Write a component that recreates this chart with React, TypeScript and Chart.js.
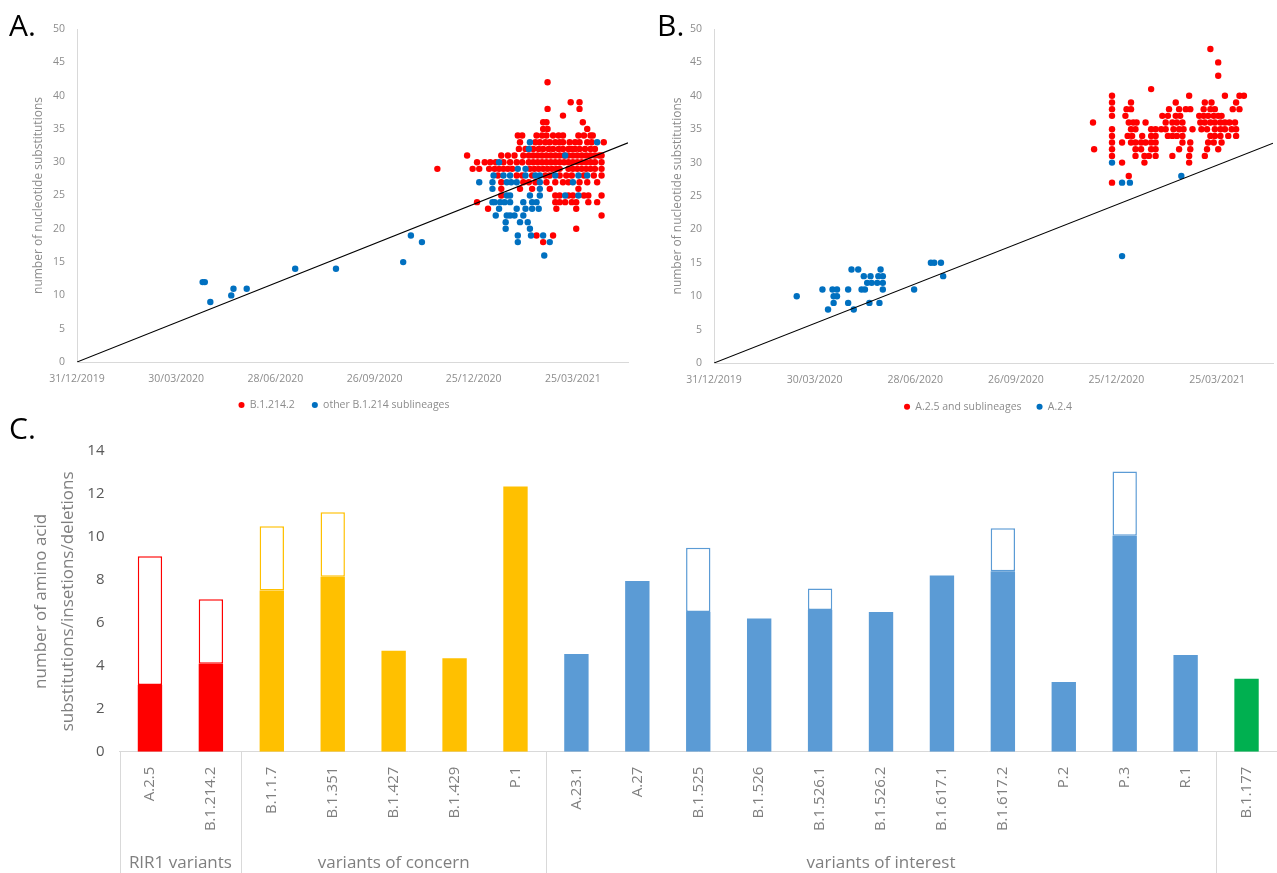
import React, { useEffect, useRef } from 'react';
import { Chart, registerables } from 'chart.js';

Chart.register(...registerables);

const FONT = '"Open Sans", "DejaVu Sans", sans-serif';
const RED = '#FF0000';
const BLUE = '#0070C0';
const AXIS_GREY = '#d9d9d9';
const TEXT_GREY = '#8c8c8c';

// ---------- Panels A and B (x = days since 31/12/2019) ----------
const xTickLabels = ['31/12/2019', '30/03/2020', '28/06/2020', '26/09/2020', '25/12/2020', '25/03/2021'];
const xTickStepDays = 90;
const xMaxDays = 500;
const trendDays = [0, 500];
const trendValues = [0, 32.9];

// rows: [number of nucleotide substitutions, [days since 31/12/2019 ...]]
const aRedRows: [number, number[]][] = [
  [42, [427]],
  [39, [448, 456]],
  [38, [427, 456]],
  [37, [441]],
  [36, [423, 426, 459]],
  [35, [423, 427, 463]],
  [34, [400, 404, 417, 422, 426, 432, 437, 441, 455, 460, 466, 468]],
  [33, [402, 416, 420, 425, 429, 434, 438, 441, 447, 452, 456, 463, 467, 478]],
  [32, [401, 407, 414, 419, 423, 428, 432, 437, 441, 446, 449, 452, 456, 461, 466, 470]],
  [31, [354, 385, 391, 397, 405, 410, 414, 418, 422, 426, 430, 434, 438, 442, 446, 450, 454, 458, 462, 466, 470, 474, 476]],
  [30, [363, 370, 375, 380, 387, 393, 399, 404, 410, 414, 418, 422, 426, 430, 434, 438, 442, 446, 450, 454, 458, 462, 466, 470, 476]],
  [29, [327, 359, 365, 374, 379, 383, 387, 391, 395, 411, 415, 419, 423, 427, 431, 435, 438, 446, 450, 454, 458, 462, 466, 470, 476]],
  [28, [382, 399, 404, 413, 425, 429, 438, 444, 449, 460, 469, 476]],
  [27, [385, 405, 410, 416, 426, 434, 441, 446, 456, 463, 472]],
  [26, [385, 402, 413, 429, 455]],
  [25, [385, 434, 438, 446, 450, 460, 464, 476]],
  [24, [363, 434, 438, 443, 449, 453, 464, 472]],
  [23, [373, 435, 453]],
  [22, [476]],
  [20, [453]],
  [19, [417, 432]],
  [18, [423]],
];

const aBlueRows: [number, number[]][] = [
  [33, [411, 472]],
  [32, [410]],
  [31, [443]],
  [30, [383]],
  [29, [400, 407]],
  [28, [378, 387, 393, 407, 416, 420, 434, 455, 463]],
  [27, [365, 377, 390, 394, 399, 420, 450]],
  [26, [377, 420]],
  [25, [390, 393, 411, 420, 443, 455]],
  [24, [377, 379, 384, 388, 393, 405, 413, 417]],
  [23, [383, 399, 407, 413, 419]],
  [22, [380, 390, 393, 397, 405]],
  [21, [389, 402, 409]],
  [20, [389, 411]],
  [19, [303, 400, 412, 423]],
  [18, [313, 400, 429]],
  [16, [424]],
  [15, [296]],
  [14, [198, 235]],
  [12, [114, 116]],
  [11, [142, 154]],
  [10, [140]],
  [9, [121]],
];

const bRedRows: [number, number[]][] = [
  [47, [444]],
  [45, [451]],
  [43, [451]],
  [41, [391]],
  [40, [356, 425, 457, 470, 474]],
  [39, [356, 373, 413, 439, 445, 467]],
  [38, [356, 369, 373, 407, 416, 422, 426, 438, 444, 448, 464, 470]],
  [37, [356, 368, 401, 406, 413, 417, 434, 438, 442, 447, 451, 454]],
  [36, [339, 371, 375, 378, 386, 404, 410, 414, 419, 435, 439, 444, 448, 453, 457, 461, 466]],
  [35, [356, 373, 377, 391, 395, 400, 404, 411, 416, 420, 428, 436, 441, 448, 453, 457, 463, 467]],
  [34, [356, 370, 374, 383, 391, 395, 406, 410, 414, 419, 444, 448, 453, 460, 467]],
  [33, [356, 365, 373, 377, 382, 386, 391, 395, 419, 426, 442, 447, 454]],
  [32, [340, 356, 377, 382, 391, 395, 416, 426, 441, 451]],
  [31, [356, 377, 385, 389, 395, 410, 425, 439]],
  [30, [365, 385, 425]],
  [28, [371]],
  [27, [356]],
];

const bBlueRows: [number, number[]][] = [
  [30, [356]],
  [28, [418]],
  [27, [365, 372]],
  [16, [365]],
  [15, [194, 197, 203]],
  [14, [123, 129, 149]],
  [13, [134, 140, 147, 151, 205]],
  [12, [137, 141, 146, 151]],
  [11, [97, 106, 110, 120, 132, 135, 151, 179]],
  [10, [74, 107, 110]],
  [9, [107, 120, 139, 148]],
  [8, [102, 125]],
];

// ---------- Panel C ----------
const categories = ['A.2.5', 'B.1.214.2', 'B.1.1.7', 'B.1.351', 'B.1.427', 'B.1.429', 'P.1', 'A.23.1', 'A.27', 'B.1.525', 'B.1.526', 'B.1.526.1', 'B.1.526.2', 'B.1.617.1', 'B.1.617.2', 'P.2', 'P.3', 'R.1', 'B.1.177'];
const filledValues = [3.1, 4.1, 7.5, 8.15, 4.7, 4.35, 12.35, 4.55, 7.95, 6.5, 6.2, 6.6, 6.5, 8.2, 8.4, 3.25, 10.05, 4.5, 3.4];
const outlineValues = [6, 3, 3, 3, null, null, null, null, null, 3, null, 1, null, null, 2, null, 3, null, null];
const groupLabels = ['RIR1 variants', 'variants of concern', 'variants of interest', ''];
const groupSizes = [2, 5, 11, 1];
const groupColors = ['#FF0000', '#FFC000', '#5B9BD5', '#00B050'];

const barColors: string[] = groupSizes.flatMap((n, g) => Array(n).fill(groupColors[g]));

function rowsToPoints(rows: [number, number[]][]) {
  return rows.flatMap(([y, days]) => days.map((d) => ({ x: d, y })));
}

type ScatterProps = {
  left: number; top: number; width: number; height: number;
  redRows: [number, number[]][]; blueRows: [number, number[]][];
  redLabel: string; blueLabel: string;
  pad: { left: number; right: number; top: number; bottom: number };
  yAxisWidth: number; xAxisHeight: number; titlePadTop: number; legendPad: number; legendShift: number;
};

function ScatterPanel(p: ScatterProps) {
  const ref = useRef<HTMLCanvasElement>(null);
  useEffect(() => {
    const tickFont = { family: FONT, size: 10.5 };
    const legendShiftPlugin = {
      id: 'legendShift',
      afterLayout(chart: any) {
        const l = chart.legend;
        if (l) { l.left += p.legendShift; l.right += p.legendShift; }
      },
    };
    const chart = new Chart(ref.current!, {
      type: 'scatter',
      data: {
        datasets: [
          { label: p.redLabel, data: rowsToPoints(p.redRows), backgroundColor: RED, borderColor: RED, pointRadius: 3.2, pointBorderWidth: 0, pointStyle: 'circle', order: 2 } as any,
          { label: p.blueLabel, data: rowsToPoints(p.blueRows), backgroundColor: BLUE, borderColor: BLUE, pointRadius: 3.2, pointBorderWidth: 0, pointStyle: 'circle', order: 1 } as any,
          { type: 'line', label: 'trend', data: trendDays.map((d, i) => ({ x: d, y: trendValues[i] })), borderColor: '#000000', borderWidth: 1.1, pointRadius: 0, fill: false, order: 0 } as any,
        ],
      },
      options: {
        responsive: false,
        animation: false,
        events: [],
        layout: { padding: p.pad },
        plugins: {
          tooltip: { enabled: false },
          legend: {
            position: 'bottom',
            labels: {
              usePointStyle: true,
              pointStyle: 'circle',
              boxWidth: 6,
              boxHeight: 4.3,
              padding: p.legendPad,
              color: TEXT_GREY,
              font: { family: FONT, size: 10.5 },
              filter: (item: any) => item.datasetIndex < 2,
              sort: (a: any, b: any) => a.datasetIndex - b.datasetIndex,
            },
          },
        },
        scales: {
          x: {
            type: 'linear',
            min: 0,
            max: xMaxDays,
            grid: { display: false, drawTicks: false },
            border: { display: true, color: AXIS_GREY },
            ticks: {
              stepSize: xTickStepDays,
              includeBounds: false,
              autoSkip: false,
              maxRotation: 0,
              minRotation: 0,
              padding: 11,
              color: TEXT_GREY,
              font: tickFont,
              callback: (v: any) => xTickLabels[Math.round(Number(v) / xTickStepDays)] ?? '',
            },
            afterFit: (s: any) => { s.height = p.xAxisHeight; s.paddingLeft = 0; s.paddingRight = 0; },
          },
          y: {
            min: 0,
            max: 50,
            grid: { display: false, drawTicks: false },
            border: { display: true, color: AXIS_GREY },
            ticks: { stepSize: 5, padding: 12, color: TEXT_GREY, font: tickFont },
            title: {
              display: true,
              text: 'number of nucleotide substitutions',
              color: TEXT_GREY,
              font: { family: FONT, size: 12 },
              padding: { top: p.titlePadTop, bottom: 0 },
            },
            afterFit: (s: any) => { s.width = p.yAxisWidth; s.paddingTop = 0; s.paddingBottom = 0; },
          },
        },
      } as any,
      plugins: [legendShiftPlugin],
    });
    return () => chart.destroy();
  }, []);
  return (
    <canvas ref={ref} width={p.width} height={p.height}
      style={{ position: 'absolute', left: p.left, top: p.top, width: p.width, height: p.height }} />
  );
}

function BarPanel() {
  const ref = useRef<HTMLCanvasElement>(null);
  useEffect(() => {
    const groupPlugin = {
      id: 'groupAxis',
      afterDraw(chart: any) {
        const { ctx, chartArea, scales } = chart;
        const x = scales.x;
        const H = chart.height;
        const bounds: number[] = [chartArea.left];
        let idx = 0;
        groupSizes.forEach((n) => {
          idx += n;
          bounds.push(idx < categories.length ? (x.getPixelForValue(idx - 1) + x.getPixelForValue(idx)) / 2 : chartArea.right);
        });
        ctx.save();
        ctx.strokeStyle = AXIS_GREY;
        ctx.lineWidth = 1;
        bounds.slice(0, -1).forEach((b) => {
          const px = Math.round(b) + 0.5;
          ctx.beginPath();
          ctx.moveTo(px, chartArea.bottom);
          ctx.lineTo(px, H);
          ctx.stroke();
        });
        ctx.font = `17px ${FONT}`;
        ctx.fillStyle = '#7f7f7f';
        ctx.textAlign = 'center';
        ctx.textBaseline = 'middle';
        groupLabels.forEach((t, i) => {
          if (t) ctx.fillText(t, (bounds[i] + bounds[i + 1]) / 2, H - 10);
        });
        ctx.restore();
      },
    };
    const chart = new Chart(ref.current!, {
      type: 'bar',
      data: {
        labels: categories,
        datasets: [
          { label: 'filled', data: filledValues, backgroundColor: barColors, borderWidth: 0, barPercentage: 0.4, categoryPercentage: 1 },
          { label: 'outline', data: outlineValues, backgroundColor: '#ffffff', borderColor: barColors, borderWidth: 1.5, borderSkipped: false, barPercentage: 0.4, categoryPercentage: 1 },
        ],
      },
      options: {
        responsive: false,
        animation: false,
        events: [],
        layout: { padding: { left: 0, right: 0, top: 31, bottom: 0 } },
        plugins: { legend: { display: false }, tooltip: { enabled: false } },
        scales: {
          x: {
            stacked: true,
            grid: { display: false, drawTicks: false },
            border: { display: true, color: AXIS_GREY },
            ticks: { autoSkip: false, minRotation: 90, maxRotation: 90, padding: 15, color: '#7f7f7f', font: { family: FONT, size: 15 } },
            afterFit: (s: any) => { s.height = 121.3; s.paddingLeft = 0; s.paddingRight = 0; },
          },
          y: {
            stacked: true,
            min: 0,
            max: 14,
            grid: { display: false, drawTicks: false },
            border: { display: false },
            ticks: { stepSize: 2, padding: 15, color: '#595959', font: { family: FONT, size: 15 } },
            title: {
              display: true,
              text: ['number of amino acid', 'substitutions/insetions/deletions'],
              color: '#7f7f7f',
              font: { family: FONT, size: 17, lineHeight: 1.6 },
              padding: { top: 27.4, bottom: 0 },
            },
            afterFit: (s: any) => { s.width = 119.5; s.paddingTop = 0; s.paddingBottom = 0; },
          },
        },
      } as any,
      plugins: [groupPlugin],
    });
    return () => chart.destroy();
  }, []);
  return (
    <canvas ref={ref} width={1277} height={453}
      style={{ position: 'absolute', left: 0, top: 420, width: 1277, height: 453 }} />
  );
}

const panelLetter: React.CSSProperties = {
  position: 'absolute', fontFamily: FONT, fontSize: 30, fontWeight: 400, lineHeight: '30px', color: '#000',
};

export default function App() {
  return (
    <div style={{ position: 'relative', width: 1277, height: 873, overflow: 'hidden', background: '#fff' }}>
      <style>{'body{margin:0;background:#fff;}'}</style>
      <ScatterPanel left={0} top={0} width={640} height={430}
        redRows={aRedRows} blueRows={aBlueRows}
        redLabel="B.1.214.2" blueLabel="other B.1.214 sublineages"
        pad={{ left: 0, right: 12, top: 29, bottom: 9.75 }}
        yAxisWidth={77} xAxisHeight={20.75} titlePadTop={31.8} legendPad={17} legendShift={30} />
      <ScatterPanel left={640} top={0} width={637} height={430}
        redRows={bRedRows} blueRows={bBlueRows}
        redLabel="A.2.5 and sublineages" blueLabel="A.2.4"
        pad={{ left: 0, right: 0, top: 29, bottom: 8.05 }}
        yAxisWidth={74} xAxisHeight={23.45} titlePadTop={30.3} legendPad={15} legendShift={29.5} />
      <BarPanel />
      <div style={{ ...panelLetter, left: 9, top: 10 }}>A.</div>
      <div style={{ ...panelLetter, left: 657, top: 10 }}>B.</div>
      <div style={{ ...panelLetter, left: 9, top: 413 }}>C.</div>
    </div>
  );
}
